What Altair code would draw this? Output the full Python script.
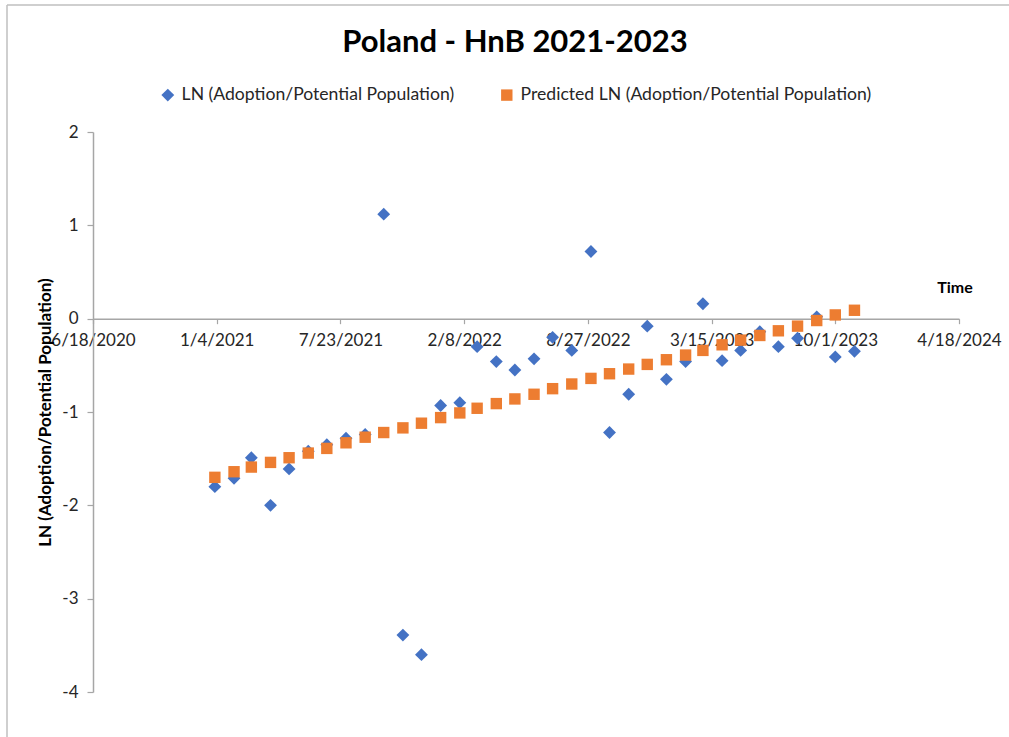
import altair as alt
import pandas as pd

# ---------------- data ----------------
months = [
    "2021-01-01", "2021-02-01", "2021-03-01", "2021-04-01", "2021-05-01", "2021-06-01",
    "2021-07-01", "2021-08-01", "2021-09-01", "2021-10-01", "2021-11-01", "2021-12-01",
    "2022-01-01", "2022-02-01", "2022-03-01", "2022-04-01", "2022-05-01", "2022-06-01",
    "2022-07-01", "2022-08-01", "2022-09-01", "2022-10-01", "2022-11-01", "2022-12-01",
    "2023-01-01", "2023-02-01", "2023-03-01", "2023-04-01", "2023-05-01", "2023-06-01",
    "2023-07-01", "2023-08-01", "2023-09-01", "2023-10-01", "2023-11-01",
]
ln_actual = [
    -1.80, -1.71, -1.49, -2.00, -1.61, -1.42, -1.35, -1.28, -1.24, 1.12, -3.39, -3.60,
    -0.93, -0.90, -0.30, -0.46, -0.55, -0.43, -0.20, -0.34, 0.72, -1.22, -0.81, -0.08,
    -0.65, -0.46, 0.16, -0.45, -0.34, -0.14, -0.30, -0.21, 0.02, -0.41, -0.35,
]
ln_predicted = [
    -1.70, -1.64, -1.59, -1.54, -1.49, -1.44, -1.39, -1.33, -1.27, -1.22, -1.17, -1.12,
    -1.06, -1.01, -0.96, -0.91, -0.86, -0.81, -0.75, -0.70, -0.64, -0.59, -0.54, -0.49,
    -0.44, -0.39, -0.34, -0.28, -0.23, -0.18, -0.13, -0.08, -0.02, 0.04, 0.09,
]
series_names = [
    "LN (Adoption/Potential Population)",
    "Predicted LN (Adoption/Potential Population)",
]
x_ticks = ["2020-06-18", "2021-01-04", "2021-07-23", "2022-02-08",
           "2022-08-27", "2023-03-15", "2023-10-01", "2024-04-18"]
y_ticks = [2, 1, 0, -1, -2, -3, -4]
title_text = "Poland - HnB 2021-2023"
y_title = "LN (Adoption/Potential Population)"
x_title = "Time"

# ---------------- style ----------------
FONT = "Lato"
BLUE = "#4472C4"
ORANGE = "#ED7D31"
AXIS_GRAY = "#a6a6a6"
TEXT = "#262626"
W, H = 866, 560


def dt(s):
    y, m, d = (int(p) for p in s.split("-"))
    return alt.DateTime(year=y, month=m, date=d, utc=True)


df = pd.DataFrame({
    "date": months * 2,
    "value": ln_actual + ln_predicted,
    "series": [series_names[0]] * len(months) + [series_names[1]] * len(months),
})

x_enc = alt.X(
    "date:T",
    scale=alt.Scale(type="utc", domain=[dt(x_ticks[0]), dt(x_ticks[-1])], nice=False),
    axis=alt.Axis(
        values=[dt(s) for s in x_ticks],
        labelExpr="utcFormat(datum.value, '%-m/%-d/%Y')",
        title=None,
        grid=False,
        offset=-(H * 4 / 6),  # move axis to cross at y = 0
        domainColor=AXIS_GRAY,
        domainWidth=1.5,
        tickColor=AXIS_GRAY,
        tickWidth=1.2,
        tickSize=5,
        labelFont=FONT,
        labelFontSize=17,
        labelColor=TEXT,
        labelPadding=9,
        labelOverlap=False,
        labelFlush=False,
    ),
)

y_enc = alt.Y(
    "value:Q",
    scale=alt.Scale(domain=[-4, 2], nice=False, zero=False),
    axis=alt.Axis(
        values=y_ticks,
        labelExpr="toString(datum.value)",
        title=y_title,
        titleFont=FONT,
        titleFontSize=17,
        titleFontWeight="bold",
        titleColor="#000000",
        titleAngle=270,
        titleAlign="center",
        titleBaseline="middle",
        titleX=-48,
        titleY=H / 2,
        grid=False,
        domainColor=AXIS_GRAY,
        domainWidth=1.5,
        tickColor=AXIS_GRAY,
        tickWidth=1.2,
        tickSize=6,
        labelFont=FONT,
        labelFontSize=17,
        labelColor=TEXT,
        labelPadding=9,
    ),
)

points = alt.Chart(df).mark_point(filled=True, opacity=1, strokeWidth=0).encode(
    x=x_enc,
    y=y_enc,
    color=alt.Color(
        "series:N",
        scale=alt.Scale(domain=series_names, range=[BLUE, ORANGE]),
        legend=alt.Legend(
            title=None,
            orient="none",
            direction="horizontal",
            legendX=66,
            legendY=-46,
            labelFont=FONT,
            labelFontSize=17.6,
            labelColor=TEXT,
            labelLimit=500,
            symbolSize=110,
            symbolStrokeWidth=0,
            columnPadding=43,
            labelOffset=5,
        ),
    ),
    shape=alt.Shape(
        "series:N",
        scale=alt.Scale(domain=series_names, range=["diamond", "square"]),
    ),
    size=alt.Size(
        "series:N",
        scale=alt.Scale(domain=series_names, range=[165, 130]),
        legend=None,
    ),
)

title_mark = alt.Chart(pd.DataFrame({"t": [title_text]})).mark_text(
    font=FONT, fontSize=31, fontWeight="bold", color="#000000",
    align="center", baseline="middle",
).encode(text="t:N", x=alt.value(422), y=alt.value(-89))

time_mark = alt.Chart(pd.DataFrame({"t": [x_title]})).mark_text(
    font=FONT, fontSize=16, fontWeight="bold", color="#000000",
    align="center", baseline="middle",
).encode(text="t:N", x=alt.value(862), y=alt.value(156))

frame_left = alt.Chart(pd.DataFrame({"a": [0]})).mark_rule(
    color="#bfbfbf", strokeWidth=1.5
).encode(x=alt.value(-86), y=alt.value(-127), y2=alt.value(605))
frame_top = alt.Chart(pd.DataFrame({"a": [0]})).mark_rule(
    color="#bfbfbf", strokeWidth=1.5
).encode(x=alt.value(-86), x2=alt.value(916), y=alt.value(-127))

chart = alt.layer(frame_left, frame_top, points, title_mark, time_mark).properties(
    width=W,
    height=H,
    autosize=alt.AutoSizeParams(type="none"),
    padding={"left": 93, "top": 132, "right": 50, "bottom": 45},
    background="white",
).configure_view(stroke=None)

chart.save("out.html", embed_options={"renderer": "svg", "actions": False})
